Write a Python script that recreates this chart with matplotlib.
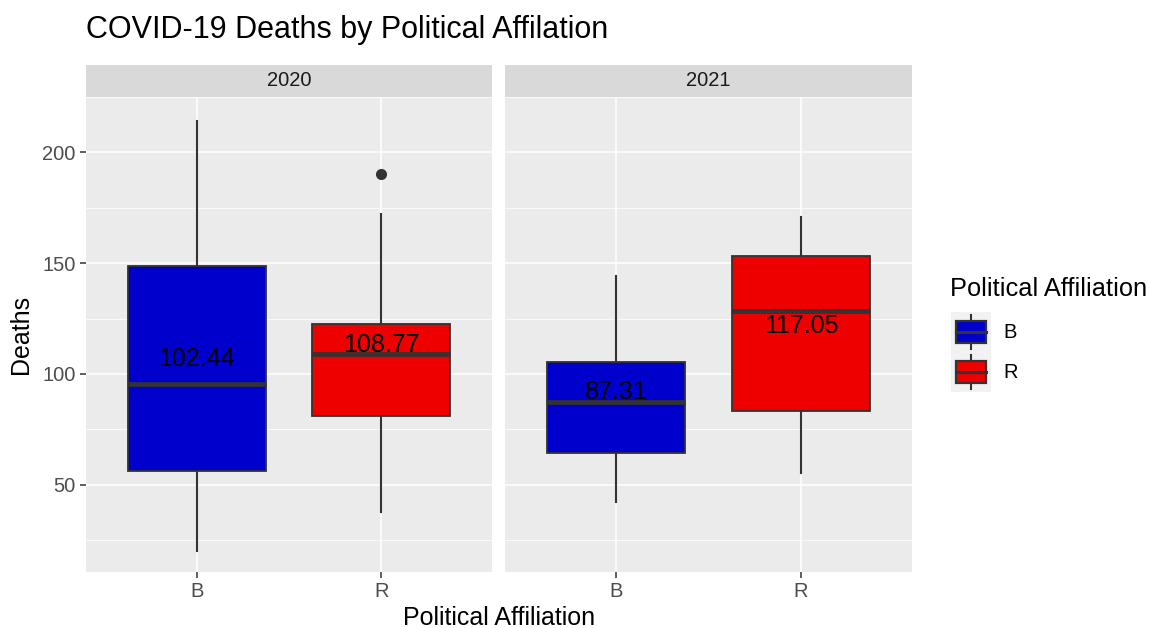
import numpy as np
import matplotlib
matplotlib.use("Agg")
import matplotlib.pyplot as plt
from matplotlib.patches import Rectangle
from matplotlib.transforms import offset_copy

plt.rcParams["font.family"] = ["Liberation Sans", "DejaVu Sans"]

YEARS = ["2020", "2021"]
PARTIES = ["B", "R"]
COLORS = {"B": "#0000CD", "R": "#EE0000"}

# box statistics per year, one value per party (B, R)
WHISLO = {"2020": [20.2, 37.6], "2021": [42.0, 55.2]}
Q1 = {"2020": [56.4, 80.8], "2021": [64.2, 83.1]}
MEDIAN = {"2020": [95.6, 109.0], "2021": [87.3, 128.3]}
Q3 = {"2020": [148.8, 122.6], "2021": [105.5, 153.4]}
WHISHI = {"2020": [214.1, 172.0], "2021": [144.2, 171.0]}
FLIERS = {"2020": [[], [190.1]], "2021": [[], []]}
MEANS = {"2020": [102.44, 108.77], "2021": [87.31, 117.05]}

W, H = 1149, 628
PANEL_BG = "#EBEBEB"
STRIP_BG = "#D9D9D9"
EDGE = "#333333"
TICK_TXT = "#4D4D4D"
SMALL = 14.5
BIG = 18.0


def px(x0, y0, x1, y1):
    # pixel box (top-left origin) -> figure fraction rect
    return [x0 / W, (H - y1) / H, (x1 - x0) / W, (y1 - y0) / H]


def main():
    fig = plt.figure(figsize=(W / 100, H / 100), dpi=100)
    fig.patch.set_facecolor("white")

    panels = [(86, 492), (505, 912)]
    ylim = (10.6, 224.0)
    for i, (year, (x0, x1)) in enumerate(zip(YEARS, panels)):
        ax = fig.add_axes(px(x0, 97, x1, 572))
        ax.set_facecolor(PANEL_BG)
        for s in ax.spines.values():
            s.set_visible(False)

        stats = []
        for j, p in enumerate(PARTIES):
            stats.append({
                "whislo": WHISLO[year][j],
                "q1": Q1[year][j],
                "med": MEDIAN[year][j],
                "q3": Q3[year][j],
                "whishi": WHISHI[year][j],
                "fliers": FLIERS[year][j],
                "label": p,
            })
        pos = np.arange(1, len(PARTIES) + 1)
        bp = ax.bxp(
            stats, positions=pos, widths=0.75, patch_artist=True, showcaps=False,
            boxprops=dict(edgecolor=EDGE, linewidth=1.3),
            medianprops=dict(color=EDGE, linewidth=3.4, solid_capstyle="butt"),
            whiskerprops=dict(color=EDGE, linewidth=1.5),
            flierprops=dict(marker="o", markerfacecolor=EDGE, markeredgecolor=EDGE, markersize=7),
        )
        for patch, p in zip(bp["boxes"], PARTIES):
            patch.set_facecolor(COLORS[p])

        tr = offset_copy(ax.transData, fig=fig, x=0, y=2.7, units="dots")
        for x, m in zip(pos, MEANS[year]):
            ax.text(x, m, f"{m:.2f}", ha="center", va="baseline", fontsize=BIG,
                    color="black", transform=tr, zorder=5)

        ax.set_xlim(0.4, len(PARTIES) + 0.6)
        ax.set_ylim(*ylim)
        ax.set_xticks(pos)
        ax.set_xticklabels(PARTIES)
        ax.set_yticks([50, 100, 150, 200])
        ax.set_yticks([25, 75, 125, 175, 225], minor=True)
        ax.grid(which="major", color="white", linewidth=1.1)
        ax.grid(which="minor", axis="y", color="white", linewidth=0.55)
        ax.set_axisbelow(True)
        ax.tick_params(which="major", length=4.3, width=1.1, color=EDGE,
                       labelsize=SMALL, labelcolor=TICK_TXT, pad=3)
        ax.tick_params(which="minor", length=0)
        if i == 0:
            ax.set_ylabel("Deaths", fontsize=BIG, labelpad=7)
        else:
            ax.tick_params(axis="y", which="both", left=False, labelleft=False)

        sax = fig.add_axes(px(x0, 65, x1, 97))
        sax.set_facecolor(STRIP_BG)
        sax.set_xticks([])
        sax.set_yticks([])
        for s in sax.spines.values():
            s.set_visible(False)
        sax.text(0.5, 0.5, year, ha="center", va="center", fontsize=SMALL,
                 color="#1A1A1A", transform=sax.transAxes)

    fig.text(86 / W, 1 - 30 / H, "COVID-19 Deaths by Political Affilation",
             ha="left", va="center", fontsize=22)
    fig.text(499 / W, 1 - 618 / H, "Political Affiliation", ha="center",
             va="center", fontsize=BIG)

    # legend
    fig.text(950 / W, 1 - 289 / H, "Political Affiliation", ha="left",
             va="center", fontsize=18.3)
    lax = fig.add_axes(px(951, 312, 991, 392))
    lax.set_facecolor("#F2F2F2")
    lax.set_xlim(0, 1)
    lax.set_ylim(len(PARTIES), 0)
    lax.set_xticks([])
    lax.set_yticks([])
    for s in lax.spines.values():
        s.set_visible(False)
    for k, p in enumerate(PARTIES):
        yc = k + 0.5
        lax.plot([0.5, 0.5], [k + 0.07, k + 0.93], color=EDGE, lw=1.5, zorder=1)
        lax.add_patch(Rectangle((0.12, yc - 0.27), 0.76, 0.54, facecolor=COLORS[p],
                                edgecolor=EDGE, lw=1.6, zorder=2))
        lax.plot([0.12, 0.88], [yc, yc], color=EDGE, lw=2.2, zorder=3)
        fig.text(1003 / W, 1 - (332 + 40 * k) / H, p, ha="left", va="center",
                 fontsize=SMALL)

    fig.savefig("out.png", dpi=100)
    plt.close(fig)


if __name__ == "__main__":
    main()
